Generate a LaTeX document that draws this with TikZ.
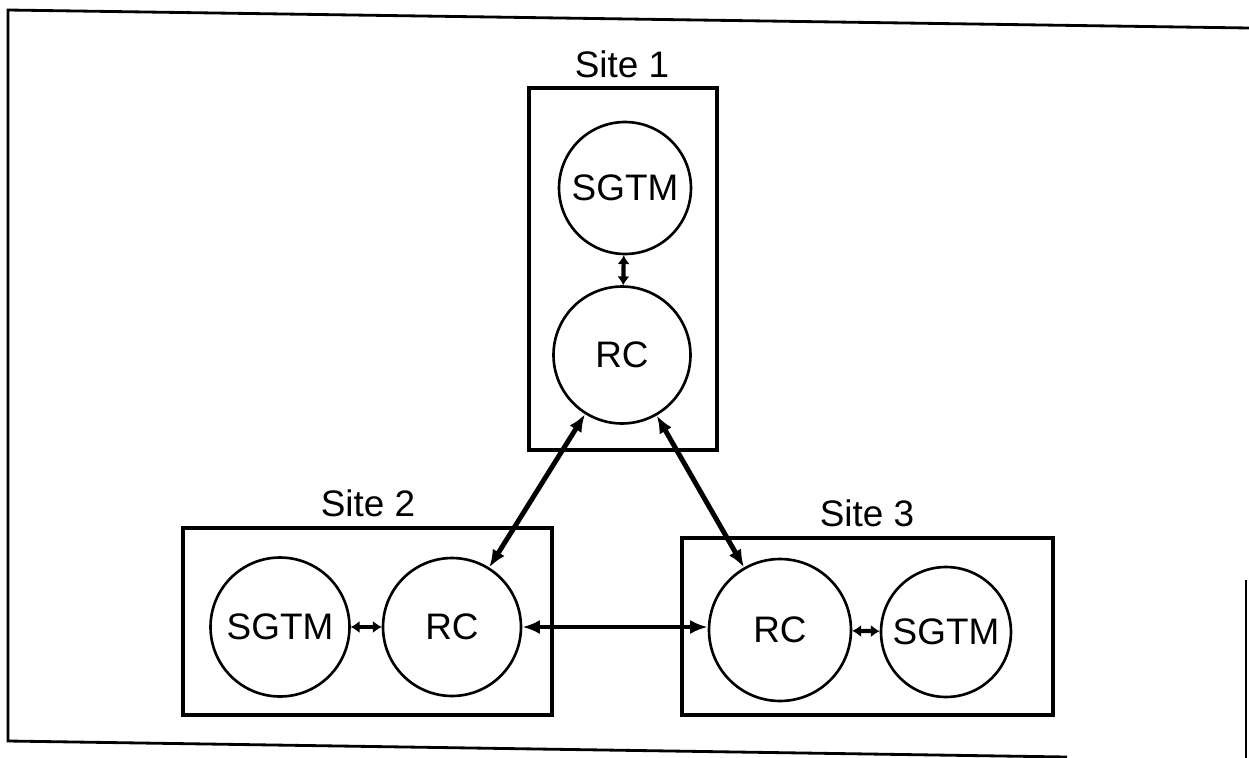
\documentclass[tikz,border=0pt]{standalone}
\usepackage{fontspec}
\setmainfont{Liberation Sans}
\usetikzlibrary{arrows.meta}
\begin{document}
\begin{tikzpicture}[x=0.02cm,y=-0.02cm,
  frame/.style={line width=1.6pt},
  sitebox/.style={draw,line width=1.8pt},
  proc/.style={draw,circle,line width=1.5pt,inner sep=0pt,font=\fontsize{21}{25}\selectfont},
  sitelabel/.style={font=\fontsize{21}{25}\selectfont},
  link/.style={line width=2.8pt,{Latex[length=10pt,width=8pt]}-{Latex[length=10pt,width=8pt]}},
  shortlink/.style={line width=2.4pt,{Latex[length=5pt,width=7pt]}-{Latex[length=5pt,width=7pt]}}]
\useasboundingbox (0,0) rectangle (1249,758);
% outer frame (as scanned)
\draw[frame] (1249,28) -- (8,10) -- (8,741) -- (1067,757);
\draw[frame] (1246,580) -- (1246,758);
% site boxes
\draw[sitebox] (529,88) rectangle (717,450);
\draw[sitebox] (183,528) rectangle (552,715);
\draw[sitebox] (682,538) rectangle (1053,715);
\node[sitelabel] (l1) at (622,64) {Site 1};
\node[sitelabel] (l2) at (368,503) {Site 2};
\node[sitelabel] (l3) at (867,513) {Site 3};
% processes
\node[proc,minimum size=2.64cm] (sgtm1) at (625,188) {SGTM};
\node[proc,minimum size=2.74cm] (rc1) at (622,355) {RC};
\node[proc,minimum size=2.78cm] (sgtm2) at (280,627) {SGTM};
\node[proc,minimum size=2.76cm] (rc2) at (452,627) {RC};
\node[proc,minimum size=2.84cm] (rc3) at (780,630) {RC};
\node[proc,minimum size=2.6cm] (sgtm3) at (946,632) {SGTM};
% connectors
\draw[shortlink] (sgtm1) -- (rc1);
\draw[shortlink] (sgtm2) -- (rc2);
\draw[shortlink] (rc3) -- (sgtm3);
\draw[link] (rc1) -- (rc2);
\draw[link] (rc1) -- (rc3);
\draw[link] (rc2.east) -- (rc2.east -| rc3.west);
\end{tikzpicture}
\end{document}
